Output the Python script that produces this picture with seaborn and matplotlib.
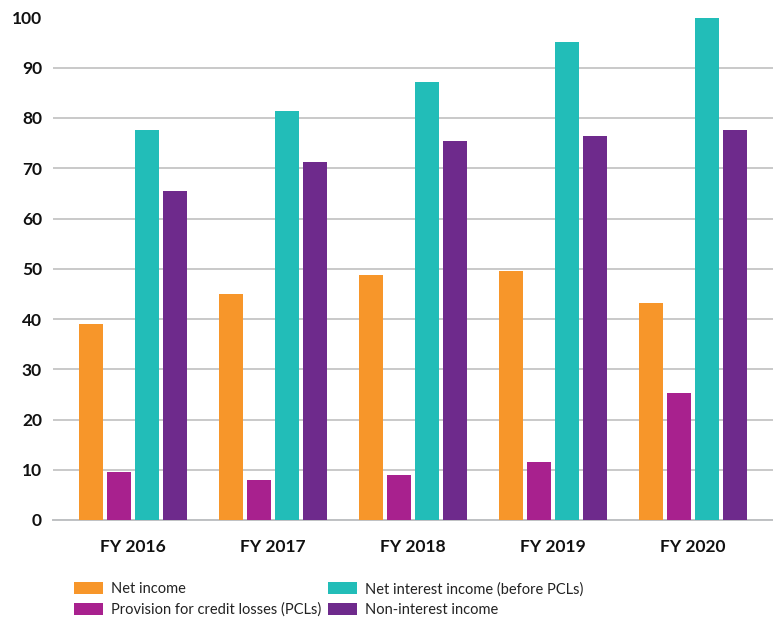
import matplotlib
matplotlib.use("Agg")
import matplotlib.pyplot as plt
import seaborn as sns
import pandas as pd
from matplotlib.patches import Patch

years = ["FY 2016", "FY 2017", "FY 2018", "FY 2019", "FY 2020"]
net_income = [39.1, 44.9, 48.7, 49.6, 43.2]
provisions = [9.6, 8.0, 9.0, 11.6, 25.3]
net_interest_income = [77.7, 81.3, 87.2, 95.2, 100.0]
non_interest_income = [65.4, 71.3, 75.5, 76.5, 77.7]

series_names = [
    "Net income",
    "Provision for credit losses (PCLs)",
    "Net interest income (before PCLs)",
    "Non-interest income",
]
series_colors = ["#F7962A", "#A8218E", "#22BDB8", "#6E2A8C"]

frames = []
for name, vals in zip(series_names,
                      [net_income, provisions, net_interest_income, non_interest_income]):
    frames.append(pd.DataFrame({"year": years, "series": name, "value": vals}))
df = pd.concat(frames, ignore_index=True)

sns.set_theme(style="white")
plt.rcParams["font.family"] = ["Lato", "DejaVu Sans"]

fig = plt.figure(figsize=(7.73, 6.22), dpi=100)
W, H = 773, 622
ax = fig.add_axes([53 / W, 1 - 520 / H, 1 - 53 / W, (520 - 17.5) / H])

sns.barplot(data=df, x="year", y="value", hue="series", hue_order=series_names,
            palette=series_colors, order=years, width=0.8, gap=0.16,
            saturation=1, linewidth=0, ax=ax, legend=False, zorder=3)

ax.set_ylim(0, 100)
ax.set_xlim(-0.5 - 10 / 140, 4.5 + 10 / 140)
ax.set_yticks(range(0, 101, 10))
ax.yaxis.grid(True, color="#c9c9c9", linewidth=1.4, zorder=0)
ax.set_axisbelow(True)
for s in ["top", "right", "left"]:
    ax.spines[s].set_visible(False)
ax.spines["bottom"].set_color("#bfc1c3")
ax.spines["bottom"].set_linewidth(1.4)

ax.set_xlabel("")
ax.set_ylabel("")
ax.tick_params(axis="y", length=0, pad=8, labelsize=12.5, labelcolor="#111111")
ax.tick_params(axis="x", which="major", length=0, pad=14, labelsize=12.5,
               labelcolor="#111111")
for lbl in ax.get_yticklabels() + ax.get_xticklabels():
    lbl.set_fontweight("bold")

# category separators below the axis
ax.set_xticks([i - 0.5 for i in range(len(years) + 1)], minor=True)
ax.tick_params(axis="x", which="minor", length=10, width=1.4, color="#d0d0d0",
               direction="out")

# two legend columns, each placed at its own left edge
handles = [Patch(facecolor=c, edgecolor="none") for c in series_colors]
legend_kw = dict(loc="upper left", frameon=False, fontsize=10.5,
                 handlelength=2.0, handleheight=0.85, handletextpad=0.55,
                 labelspacing=0.45, borderpad=0, borderaxespad=0,
                 labelcolor="#222222")
for col, x0 in ((0, 74), (1, 328)):
    fig.legend(handles[2 * col:2 * col + 2], series_names[2 * col:2 * col + 2],
               bbox_to_anchor=(x0 / W, 1 - 582 / H), **legend_kw)

fig.savefig("out.png", dpi=100)
